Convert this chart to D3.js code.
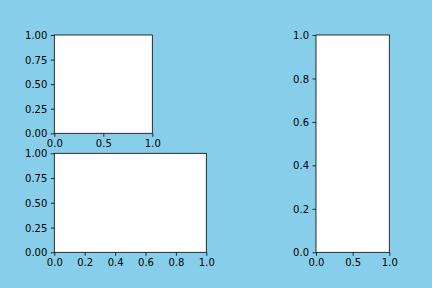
<!DOCTYPE html>
<html>
<head>
<meta charset="utf-8">
<script src="https://cdn.jsdelivr.net/npm/d3@7"></script>
<style>
  body { margin: 0; background: #87ceeb; }
  svg { display: block; }
  text { font-family: "DejaVu Sans", sans-serif; font-size: 10px; fill: #000; }
</style>
</head>
<body>
<svg id="fig" width="432" height="288"></svg>
<script>
// tick values of each panel (all panels span 0..1)
var topLeftX = [0, 0.5, 1];
var topLeftY = [0, 0.25, 0.5, 0.75, 1];
var bottomLeftX = [0, 0.2, 0.4, 0.6, 0.8, 1];
var bottomLeftY = [0, 0.25, 0.5, 0.75, 1];
var rightX = [0, 0.5, 1];
var rightY = [0, 0.2, 0.4, 0.6, 0.8, 1];

var svg = d3.select('#fig');
svg.append('rect').attr('width', 432).attr('height', 288).attr('fill', '#87ceeb');

function panel(box, xticks, yticks, xdec, ydec) {
    var x = d3.scaleLinear().domain([0, 1]).range([box.x0, box.x1]);
    var y = d3.scaleLinear().domain([0, 1]).range([box.y1, box.y0]);
    var g = svg.append('g');

    g.append('rect')
        .attr('x', box.x0).attr('y', box.y0)
        .attr('width', box.x1 - box.x0).attr('height', box.y1 - box.y0)
        .attr('fill', '#fff');

    var xa = g.append('g')
        .attr('transform', 'translate(0,' + box.y1 + ')')
        .call(d3.axisBottom(x).tickValues(xticks).tickFormat(d3.format('.' + xdec + 'f'))
            .tickSize(3.5).tickPadding(3.5));
    var ya = g.append('g')
        .attr('transform', 'translate(' + box.x0 + ',0)')
        .call(d3.axisLeft(y).tickValues(yticks).tickFormat(d3.format('.' + ydec + 'f'))
            .tickSize(3.5).tickPadding(3.5));

    [xa, ya].forEach(function(a){
        a.select('.domain').remove();
        a.selectAll('line').attr('stroke', '#000').attr('stroke-width', 0.8);
        a.selectAll('text').attr('font-family', null).attr('font-size', null).attr('fill', '#000');
    });
    xa.selectAll('text').attr('dy', '0.72em');
    ya.selectAll('text').attr('dy', '0.36em');

    g.append('rect')
        .attr('x', box.x0).attr('y', box.y0)
        .attr('width', box.x1 - box.x0).attr('height', box.y1 - box.y0)
        .attr('fill', 'none').attr('stroke', '#000').attr('stroke-width', 0.8);
}

panel({x0: 54.3, x1: 152.3, y0: 35, y1: 133.3}, topLeftX, topLeftY, 1, 2);
panel({x0: 54.3, x1: 206.3, y0: 153.3, y1: 252.3}, bottomLeftX, bottomLeftY, 1, 2);
panel({x0: 316, x1: 389.3, y0: 35, y1: 252.3}, rightX, rightY, 1, 1);
</script>
</body>
</html>
